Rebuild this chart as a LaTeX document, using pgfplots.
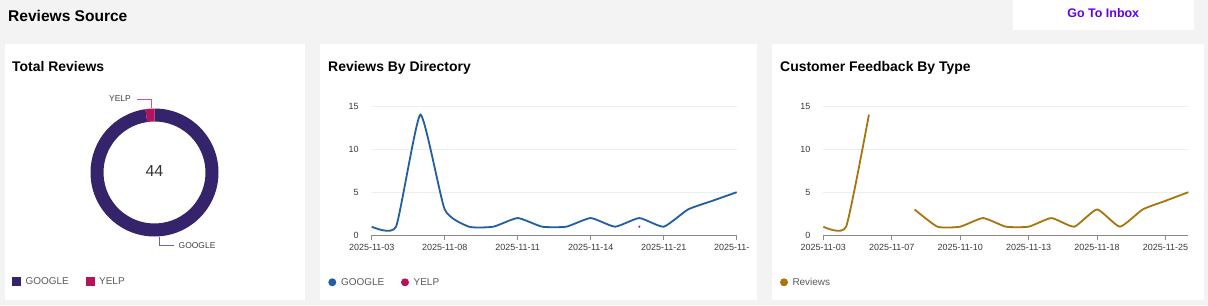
\documentclass[border=0pt]{standalone}
\usepackage{fontspec}
\setmainfont{Liberation Sans}
\usepackage{pgfplots}
\pgfplotsset{compat=1.18}
\definecolor{bg}{HTML}{F3F3F4}
\definecolor{google}{HTML}{35246B}
\definecolor{yelp}{HTML}{B5135E}
\definecolor{gline}{HTML}{215EA3}
\definecolor{rline}{HTML}{A8740D}
\definecolor{tickc}{HTML}{3A3A3A}
\definecolor{gridc}{HTML}{EDEDED}
\definecolor{axisc}{HTML}{8A8A8A}
\definecolor{inbox}{HTML}{6200EE}
\definecolor{legc}{HTML}{5A5A5A}

\pgfplotstableread{
x y
0 1
1 1
2 14
3 3
4 1
5 1
6 2
7 1
8 1
9 2
10 1
11 2
12 1
13 3
14 4
15 5
}\googledata

\pgfplotstableread{
x y
11 1
}\yelpdata

\pgfplotstableread{
x y
0 1
1 1
2 14
3 nan
4 3
5 1
6 1
7 2
8 1
9 1
10 2
11 1
12 3
13 1
14 3
15 4
16 5
}\reviewdata

\pgfplotsset{
  dash/.style={
    scale only axis, width=365bp, height=129.3bp,
    anchor=south west,
    ymin=0, ymax=15, ytick={0,5,10,15},
    axis x line*=bottom, axis y line*=left,
    axis line style={-},
    y axis line style={draw=none},
    x axis line style={draw=axisc, line width=0.8bp},
    ymajorgrids, grid style={gridc, line width=0.8bp},
    ytick style={draw=none},
    xtick style={draw=axisc, line width=0.8bp},
    tick align=outside, major tick length=5bp,
    xticklabel style={font=\fontsize{9}{10}\selectfont, text=tickc},
    yticklabel style={font=\fontsize{9}{10}\selectfont, text=tickc, xshift=-4.5bp},
    /pgf/number format/assume math mode=true,
    unbounded coords=jump,
    clip=false,
  }
}

\begin{document}
\begin{tikzpicture}[x=1bp,y=1bp]
% background
\fill[bg] (0,0) rectangle (1208,305);
% panels
\fill[white] (5,5) rectangle (305,261);
\fill[white] (320,5) rectangle (757,261);
\fill[white] (772,5) rectangle (1204,261);
\fill[white] (1013,275) rectangle (1194,305);

% headings
\node[anchor=base west, inner sep=0, font=\bfseries\fontsize{15.6}{18}\selectfont] at (8,283.3) {Reviews Source};
\node[anchor=base, inner sep=0, text=inbox, font=\bfseries\fontsize{12.5}{15}\selectfont] at (1103.3,287.7) {Go To Inbox};
\node[anchor=base west, inner sep=0, font=\bfseries\fontsize{14}{16}\selectfont] at (12,233.3) {Total Reviews};
\node[anchor=base west, inner sep=0, font=\bfseries\fontsize{14}{16}\selectfont] at (328,233.3) {Reviews By Directory};
\node[anchor=base west, inner sep=0, font=\bfseries\fontsize{14}{16}\selectfont] at (780,233.3) {Customer Feedback By Type};

% donut (GOOGLE 43, YELP 1)
\pgfmathsetmacro{\gval}{43}
\pgfmathsetmacro{\yval}{1}
\pgfmathsetmacro{\gend}{90-360*\gval/(\gval+\yval)}
\pgfmathsetmacro{\yend}{90+360*\yval/(\gval+\yval)}
\begin{scope}[shift={(154.5,132.5)}]
\fill[google] (90:64bp) arc[start angle=90,end angle=\gend,radius=64bp] -- (\gend:51bp) arc[start angle=\gend,end angle=90,radius=51bp] -- cycle;
\fill[yelp] (\yend:64bp) arc[start angle=\yend,end angle=90,radius=64bp] -- (90:51bp) arc[start angle=90,end angle=\yend,radius=51bp] -- cycle;
\end{scope}
\node[text=black!80, font=\fontsize{16}{18}\selectfont] at (154.5,133.8) {44};
\draw[yelp!70, line width=0.8bp] (151,197) -- (151,206) -- (137,206);
\node[anchor=east, inner sep=0, text=black!75, font=\fontsize{8.5}{10}\selectfont] at (131,206) {YELP};
\draw[google!70, line width=0.8bp] (159.5,68) -- (159.5,59.7) -- (174,59.7);
\node[anchor=west, inner sep=0, text=black!75, font=\fontsize{8.5}{10}\selectfont] at (178.5,59.7) {GOOGLE};

% panel 1 legend
\fill[google] (12,19) rectangle (21,28);
\node[anchor=west, inner sep=0, text=legc, font=\fontsize{10}{12}\selectfont] at (25.5,23.5) {GOOGLE};
\fill[yelp] (86,19) rectangle (95,28);
\node[anchor=west, inner sep=0, text=legc, font=\fontsize{10}{12}\selectfont] at (99,23.5) {YELP};

% panel 2
\begin{axis}[dash, at={(371.7bp,69.7bp)},
  xmin=0, xmax=15, xtick={0,3,6,9,12,15},
  xticklabels={2025-11-03,2025-11-08,2025-11-11,2025-11-14,2025-11-21,2025-11-\phantom{00}}]
\addplot[gline, line width=1.8bp, smooth, tension=0.3, mark=none] table[x=x,y=y] {\googledata};
\addplot[yelp, only marks, mark=*, mark size=0.8bp] table[x=x,y=y] {\yelpdata};
\end{axis}
\fill[gline] (332.3,22.7) circle (4bp);
\node[anchor=west, inner sep=0, text=legc, font=\fontsize{10}{12}\selectfont] at (340.8,22.7) {GOOGLE};
\fill[yelp] (405,22.7) circle (4bp);
\node[anchor=west, inner sep=0, text=legc, font=\fontsize{10}{12}\selectfont] at (413.5,22.7) {YELP};

% panel 3
\begin{axis}[dash, at={(823.3bp,69.7bp)},
  xmin=0, xmax=16, xtick={0,3,6,9,12,15},
  xticklabels={2025-11-03,2025-11-07,2025-11-10,2025-11-13,2025-11-18,2025-11-25}]
\addplot[rline, line width=1.8bp, smooth, tension=0.3, mark=none] table[x=x,y=y] {\reviewdata};
\end{axis}
\fill[rline] (784,22.7) circle (4bp);
\node[anchor=west, inner sep=0, text=legc, font=\fontsize{10}{12}\selectfont] at (792.3,22.7) {Reviews};
\end{tikzpicture}
\end{document}
